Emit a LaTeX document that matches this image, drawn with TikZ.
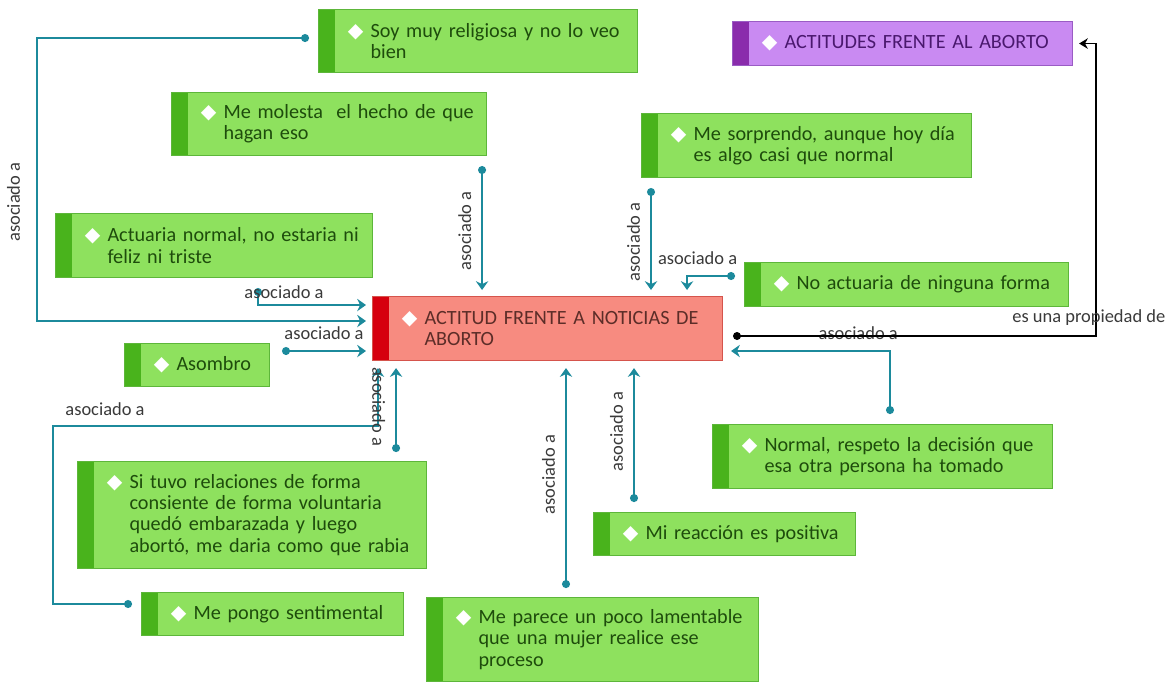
\documentclass[tikz,border=0pt]{standalone}
\usepackage{fontspec}
\setmainfont{Carlito}
\newfontfamily\symfont{DejaVu Sans}
\usepackage{xcolor}
\usetikzlibrary{arrows.meta,positioning}
\definecolor{quotegreen}{HTML}{8EE15E}
\definecolor{stripgreen}{HTML}{49B31C}
\definecolor{edgegreen}{HTML}{5DB63A}
\definecolor{textgreen}{HTML}{1E4C0C}
\definecolor{codered}{HTML}{F78B80}
\definecolor{stripred}{HTML}{D6000E}
\definecolor{edgered}{HTML}{D5544C}
\definecolor{textred}{HTML}{5C2D28}
\definecolor{familypurple}{HTML}{C98AF2}
\definecolor{strippurple}{HTML}{8A2CAC}
\definecolor{edgepurple}{HTML}{9A5CC4}
\definecolor{textpurple}{HTML}{4A186E}
\definecolor{linkteal}{HTML}{1C8A9C}
\definecolor{labelgray}{HTML}{3A3A3A}
\newdimen\px
\px=0.02cm
\newcommand{\gem}[1]{\leftskip=42\px\noindent\llap{{\symfont\textcolor{white}{◆}}\hspace{7\px}}#1\par}
\tikzset{
  card/.style={anchor=north west,align=left,inner xsep=10\px,inner ysep=0pt,
    line width=0.6pt,font=\fontsize{11.5}{12}\selectfont},
  sidebar/.style={path picture={\fill[#1] (path picture bounding box.south west)
    rectangle ([xshift=16\px]path picture bounding box.north west);}},
  quotebox/.style={card,draw=edgegreen,fill=quotegreen,text=textgreen,sidebar=stripgreen},
  codebox/.style={card,draw=edgered,fill=codered,text=textred,sidebar=stripred},
  familybox/.style={card,draw=edgepurple,fill=familypurple,text=textpurple,sidebar=strippurple},
  assoc/.style={draw=linkteal,line width=1.4pt,{Circle[length=4.5pt]}-{Stealth[length=5pt,width=7pt]}},
  proplink/.style={draw=black,line width=0.7pt,{Circle[length=4.5pt]}-{Stealth[length=5pt,width=6pt]}},
  lab/.style={font=\fontsize{10.5}{12}\selectfont,text=labelgray,inner sep=5.5pt},
  vlab/.style={lab,rotate=90,anchor=south}
}
\begin{document}
\begin{tikzpicture}[x=1\px,y=-1\px]
  \fill[white] (0,0) rectangle (1170,681);
  \useasboundingbox (0,0) rectangle (1170,681);

  % code and family
  \node[codebox,text width=330\px,minimum height=64\px] (centro) at (372,296)
    {\gem{ACTITUD FRENTE A NOTICIAS DE\\ABORTO}};
  \node[familybox,text width=320\px,minimum height=44\px] (familia) at (732,21)
    {\gem{ACTITUDES FRENTE AL ABORTO}};

  % quotations
  \node[quotebox,text width=299\px,minimum height=63\px] (religiosa) at (318,9)
    {\gem{Soy muy religiosa y no lo veo\\bien}};
  \node[quotebox,text width=295\px,minimum height=63\px] (molesta) at (171,92)
    {\gem{Me molesta\ \ el hecho de que\\hagan eso}};
  \node[quotebox,text width=297\px,minimum height=64\px] (actuaria) at (55,213)
    {\gem{Actuaria normal, no estaria ni\\feliz ni triste}};
  \node[quotebox,text width=125\px,minimum height=43\px] (asombro) at (124,343)
    {\gem{Asombro}};
  \node[quotebox,text width=310\px,minimum height=64\px] (sorprendo) at (641,113)
    {\gem{Me sorprendo, aunque hoy día\\es algo casi que normal}};
  \node[quotebox,text width=304\px,minimum height=44\px] (ninguna) at (744,262)
    {\gem{No actuaria de ninguna forma}};
  \node[quotebox,text width=320\px,minimum height=64\px] (respeto) at (712,424)
    {\gem{Normal, respeto la decisión que\\esa otra persona ha tomado}};
  \node[quotebox,text width=242\px,minimum height=43\px] (positiva) at (593,512)
    {\gem{Mi reacción es positiva}};
  \node[quotebox,text width=329\px,minimum height=107\px] (rabia) at (77,461)
    {\gem{Si tuvo relaciones de forma\\consiente de forma voluntaria\\quedó embarazada y luego\\abortó, me daria como que rabia}};
  \node[quotebox,text width=242\px,minimum height=43\px] (sentimental) at (141,592)
    {\gem{Me pongo sentimental}};
  \node[quotebox,text width=312\px,minimum height=84\px] (lamentable) at (426,597)
    {\gem{Me parece un poco lamentable\\que una mujer realice ese\\proceso}};

  % link starts
  \coordinate (dreligiosa) at ([xshift=-9\px,yshift=3\px]religiosa.west);
  \coordinate (dmolesta) at ([xshift=-5\px,yshift=-10\px]molesta.south east);
  \coordinate (dactuaria) at ([xshift=203\px,yshift=-10\px]actuaria.south west);
  \coordinate (dasombro) at ([xshift=12\px,yshift=-8\px]asombro.north east);
  \coordinate (dsorprendo) at ([xshift=10\px,yshift=-10\px]sorprendo.south west);
  \coordinate (dninguna) at ([xshift=-9\px,yshift=-14\px]ninguna.north west);
  \coordinate (drespeto) at ([xshift=178\px,yshift=10\px]respeto.north west);
  \coordinate (dpositiva) at ([xshift=41\px,yshift=10\px]positiva.north west);
  \coordinate (drabia) at ([xshift=-31\px,yshift=9\px]rabia.north east);
  \coordinate (dsentimental) at ([xshift=-9\px,yshift=-12\px]sentimental.north west);
  \coordinate (dlamentable) at ([xshift=140\px,yshift=9\px]lamentable.north west);
  \coordinate (dprop) at ([xshift=10\px,yshift=-40\px]centro.north east);

  % asociado a
  \draw[assoc] (dreligiosa) -- ++(-272,0)
    |- node[xshift=-6\px,vlab,pos=.29] {asociado a} ([xshift=-6\px,yshift=-25\px]centro.north west);
  \draw[assoc,shorten >=6\px] (dmolesta) -- node[vlab] {asociado a} (dmolesta |- centro.north);
  \draw[assoc,shorten >=6\px] (dsorprendo) -- node[vlab] {asociado a} (dsorprendo |- centro.north);
  \draw[assoc] (dninguna) -| node[lab,above,pos=.39] {asociado a}
    ([xshift=-36\px,yshift=6\px]centro.north east);
  \draw[assoc] (dactuaria) node[lab,inner sep=0pt,xshift=26\px,yshift=-4\px] {asociado a}
    |- ([xshift=-6\px,yshift=-9\px]centro.north west);
  \draw[assoc] (dasombro) -- node[lab,above] {asociado a}
    ([xshift=-6\px,yshift=-55\px]centro.north west);
  \draw[assoc] (dsentimental) -- ++(-79,0)
    |- node[lab,above,pos=.58] {asociado a} ([xshift=6\px,yshift=-65\px]centro.south west)
    -- ([xshift=6\px,yshift=-7\px]centro.south west);
  \draw[assoc,shorten >=7\px] (drabia) -- node[lab,rotate=-90,anchor=north] {asociado a}
    (drabia |- centro.south);
  \draw[assoc,shorten >=7\px] (dlamentable) -- node[vlab] {asociado a} (dlamentable |- centro.south);
  \draw[assoc,shorten >=7\px] (dpositiva) -- node[vlab] {asociado a} (dpositiva |- centro.south);
  \draw[assoc] (drespeto) |- node[lab,above,pos=.6] {asociado a}
    ([xshift=8\px,yshift=-55\px]centro.north east);

  % es una propiedad de
  \draw[proplink] (dprop) -| node[lab,above,pos=.49] {es una propiedad de}
    ([xshift=23\px]familia.east) -- ([xshift=6\px]familia.east);
\end{tikzpicture}
\end{document}
